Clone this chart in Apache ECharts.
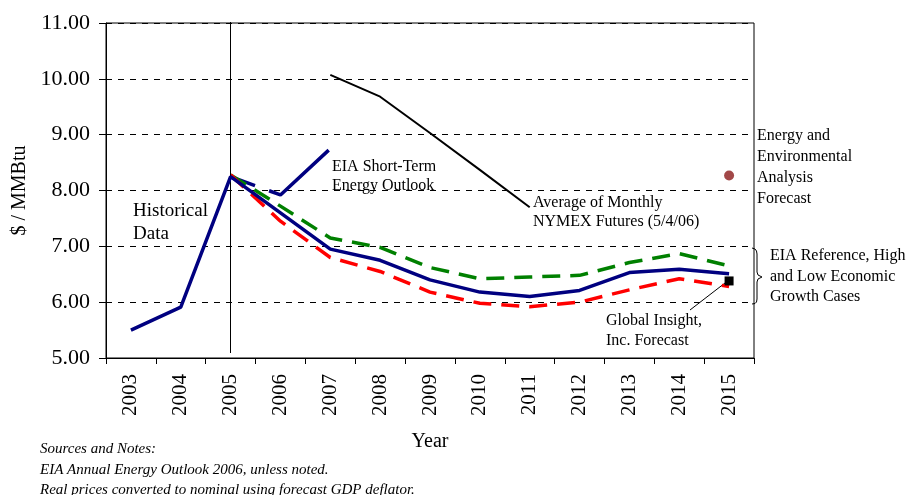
<!DOCTYPE html>
<html>
<head>
<meta charset="utf-8">
<script src="https://cdn.jsdelivr.net/npm/echarts@6/dist/echarts.min.js"></script>
<style>
  html, body { margin: 0; padding: 0; background: #fff; }
  #chart { width: 915px; height: 495px; }
</style>
</head>
<body>
<div id="chart"></div>
<script>
// years on the category axis
var years = ['2003', '2004', '2005', '2006', '2007', '2008', '2009', '2010', '2011', '2012', '2013', '2014', '2015'];
var yTicks = [5, 6, 7, 8, 9, 10, 11];

// historical + EIA reference case (solid navy)
var eiaReference = [5.50, 5.91, 8.25, 7.60, 6.95, 6.75, 6.40, 6.18, 6.10, 6.21, 6.53, 6.59, 6.51];
// EIA high / low economic growth (dashed)
var eiaHigh = [null, null, 8.28, 7.72, 7.15, 6.98, 6.62, 6.42, 6.45, 6.48, 6.71, 6.87, 6.65];
var eiaLow = [null, null, 8.28, 7.45, 6.80, 6.55, 6.18, 5.98, 5.92, 6.00, 6.22, 6.42, 6.28];
// EIA short-term energy outlook
var shortTerm = [null, null, 8.25, 7.92, 8.75, null, null, null, null, null, null, null, null];
// average of monthly NYMEX futures
var nymex = [null, null, null, null, 10.07, 9.68, 9.03, 8.37, 7.70, null, null, null, null];
// single-point forecasts for 2015
var eeaForecast = [['2015', 8.27]];
var globalInsight = [['2015', 6.38]];

var serif = 'Liberation Serif';
var chart = echarts.init(document.getElementById('chart'));

function note(x, y, text, size, lh, extra) {
  return {
    type: 'text', x: x, y: y, silent: true,
    style: {
      text: text,
      font: (extra || '') + size + 'px "' + serif + '"',
      fill: '#000',
      lineHeight: lh,
      verticalAlign: 'top'
    }
  };
}

var option = {
  backgroundColor: '#fff',
  animation: false,
  grid: {
    left: 106, right: 161, top: 23, bottom: 137,
    outerBoundsMode: 'none', containLabel: false,
    show: true, borderColor: '#000', borderWidth: 1
  },
  xAxis: {
    type: 'category',
    data: years,
    boundaryGap: true,
    name: 'Year',
    nameLocation: 'middle',
    nameGap: 74,
    nameTextStyle: { fontFamily: serif, fontSize: 20, color: '#000' },
    axisLine: { lineStyle: { color: '#000', width: 1 } },
    axisTick: { show: true, inside: false, length: 6, lineStyle: { color: '#000' } },
    axisLabel: { rotate: 90, interval: 0, margin: 16, fontFamily: serif, fontSize: 21, color: '#000' },
    splitLine: { show: false }
  },
  yAxis: {
    type: 'value',
    min: 5,
    max: 11,
    interval: 1,
    name: '$ / MMBtu',
    nameLocation: 'middle',
    nameGap: 72,
    nameTextStyle: { fontFamily: serif, fontSize: 20, color: '#000' },
    axisLine: { show: true, lineStyle: { color: '#000', width: 1 } },
    axisTick: { show: true, inside: false, length: 7, lineStyle: { color: '#000' } },
    axisLabel: {
      margin: 16, fontFamily: serif, fontSize: 22, color: '#000',
      formatter: function (v) { return yTicks.indexOf(v) >= 0 ? v.toFixed(2) : ''; }
    },
    splitLine: { show: true, lineStyle: { color: '#000', width: 1, type: [6, 6] } }
  },
  series: [
    {
      name: 'NYMEX', type: 'line', data: nymex, symbol: 'none',
      lineStyle: { color: '#000', width: 2 }, z: 2
    },
    {
      name: 'Short-Term', type: 'line', data: shortTerm, symbol: 'none',
      lineStyle: { color: '#000080', width: 3.5, type: [26, 15, 78, 20] }, z: 3
    },
    {
      name: 'High', type: 'line', data: eiaHigh, symbol: 'none',
      lineStyle: { color: '#008000', width: 3.5, type: [18, 10] }, z: 3
    },
    {
      name: 'Low', type: 'line', data: eiaLow, symbol: 'none',
      lineStyle: { color: '#ff0000', width: 3.5, type: [18, 10] }, z: 4
    },
    {
      name: 'Reference', type: 'line', data: eiaReference, symbol: 'none',
      lineStyle: { color: '#000080', width: 3.5 }, z: 5,
      markLine: {
        silent: true, symbol: 'none', label: { show: false },
        lineStyle: { color: '#000', width: 1, type: 'solid' },
        data: [[{ xAxis: '2005', y: 22 }, { xAxis: '2005', y: 353 }]]
      }
    },
    {
      name: 'EEA', type: 'scatter', data: eeaForecast, symbol: 'circle', symbolSize: 10,
      itemStyle: { color: '#8b1a1a' }, z: 6
    },
    {
      name: 'Global Insight', type: 'scatter', data: globalInsight, symbol: 'rect', symbolSize: 9,
      itemStyle: { color: '#000', opacity: 1 }, z: 6
    }
  ],
  graphic: [
    note(133, 200, 'Historical\nData', 19, 23),
    note(332, 157, 'EIA Short-Term\nEnergy Outlook', 16, 19),
    note(533, 193, 'Average of Monthly\nNYMEX Futures (5/4/06)', 16, 19),
    note(606, 311, 'Global Insight,\nInc. Forecast', 16, 20),
    note(757, 125, 'Energy and\nEnvironmental\nAnalysis\nForecast', 16, 21),
    note(770, 246, 'EIA Reference, High\nand Low Economic\nGrowth Cases', 16, 20.5),
    note(40, 439, 'Sources and Notes:\nEIA Annual Energy Outlook 2006, unless noted.\nReal prices converted to nominal using forecast GDP deflator.', 15, 20.5, 'italic '),
    {
      type: 'line', silent: true,
      shape: { x1: 725, y1: 283, x2: 690, y2: 310 },
      style: { stroke: '#000', lineWidth: 1 }
    },
    {
      type: 'polyline', silent: true,
      shape: { points: [[752, 248], [755, 249], [756.5, 251], [757, 254], [757, 272], [758, 275], [762, 277], [758, 279], [757, 282], [757, 299], [756.5, 302], [755, 303.5], [752, 304]] },
      style: { stroke: '#000', lineWidth: 1, fill: null }
    }
  ]
};

chart.setOption(option);
</script>
</body>
</html>
